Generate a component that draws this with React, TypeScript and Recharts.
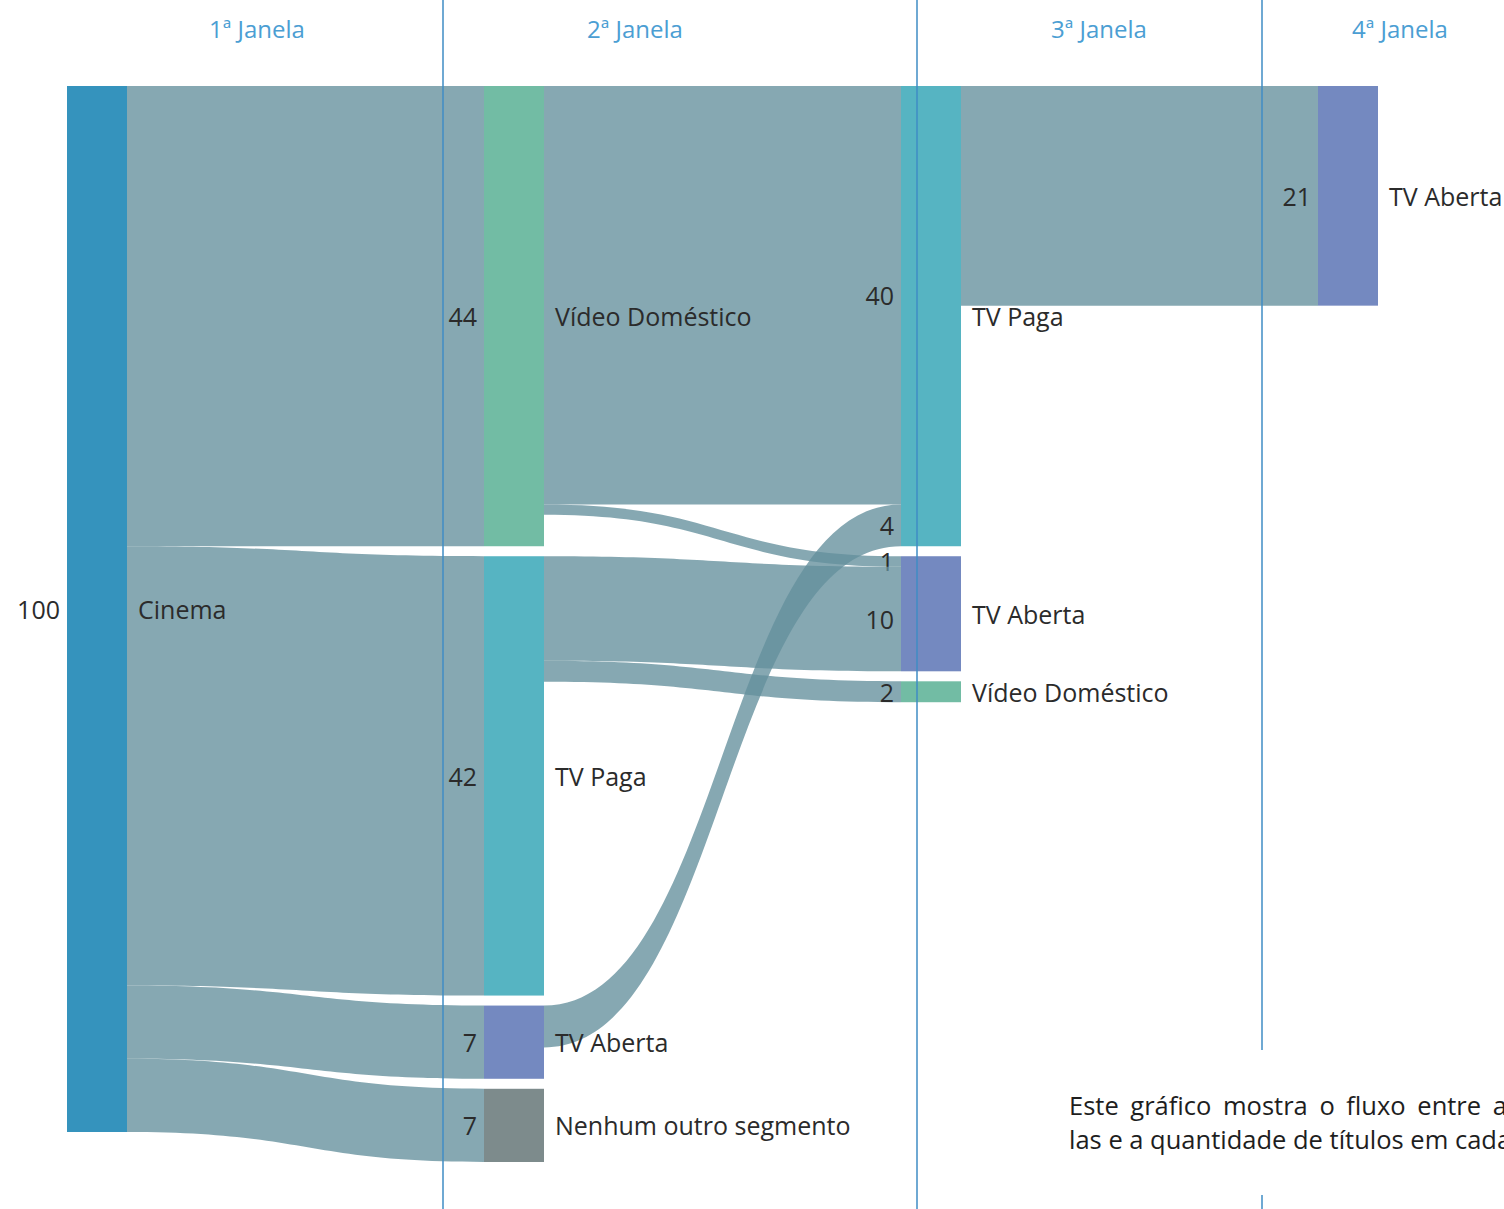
import { Sankey } from 'recharts';

/* -------------------------------------------------------------------------- */
/*  Data                                                                      */
/* -------------------------------------------------------------------------- */

const nodeNames = [
  'Cinema',
  'Vídeo Doméstico',
  'TV Paga',
  'TV Aberta',
  'Nenhum outro segmento',
  'TV Paga',
  'TV Aberta',
  'Vídeo Doméstico',
  'TV Aberta',
];

const linkSources = [0, 0, 0, 0, 1, 1, 2, 2, 3, 5];
const linkTargets = [1, 2, 3, 4, 5, 6, 6, 7, 5, 8];
const linkValues = [44, 42, 7, 7, 40, 1, 10, 2, 4, 21];

const windowLabels = ['1ª Janela', '2ª Janela', '3ª Janela', '4ª Janela'];

/* -------------------------------------------------------------------------- */
/*  Styles                                                                    */
/* -------------------------------------------------------------------------- */

const FONT = '"Open Sans", "Noto Sans", sans-serif';
const LABEL_COLOR = '#2b2b2b';
const HEADER_COLOR = '#4b9ed3';
const RULE_COLOR = '#3f8cc4';
const LINK_COLOR = '#64909c';

const NODE_COLORS: Record<string, string> = {
  Cinema: '#3593bd',
  'Vídeo Doméstico': '#72bca4',
  'TV Paga': '#56b4c2',
  'TV Aberta': '#7489c0',
  'Nenhum outro segmento': '#7d8b8c',
};

const sankeyData = {
  nodes: nodeNames.map((name) => ({ name })),
  links: linkValues.map((value, i) => ({
    source: linkSources[i],
    target: linkTargets[i],
    value,
  })),
};

/* -------------------------------------------------------------------------- */
/*  Custom node / link                                                        */
/* -------------------------------------------------------------------------- */

function SankeyNode(props: any) {
  const { x, y, width, height, index, payload } = props;
  const name: string = payload.name;
  const isRoot = !linkTargets.includes(index);
  const cy = y + height / 2;
  return (
    <g>
      <rect x={x} y={y} width={width} height={height} fill={NODE_COLORS[name] ?? '#888'} />
      {isRoot && (
        <text
          x={x - 7}
          y={cy}
          textAnchor="end"
          dominantBaseline="central"
          fontFamily={FONT}
          fontSize={25}
          fill={LABEL_COLOR}
        >
          {payload.value}
        </text>
      )}
      <text
        x={x + width + 11}
        y={cy}
        dominantBaseline="central"
        fontFamily={FONT}
        fontSize={25}
        fill={LABEL_COLOR}
      >
        {name}
      </text>
    </g>
  );
}

function SankeyLink(props: any) {
  const { sourceX, targetX, sourceY, targetY, sourceControlX, targetControlX, linkWidth, payload } =
    props;
  const h = linkWidth / 2;
  const d =
    `M${sourceX},${sourceY - h} ` +
    `C${sourceControlX},${sourceY - h} ${targetControlX},${targetY - h} ${targetX},${targetY - h} ` +
    `L${targetX},${targetY + h} ` +
    `C${targetControlX},${targetY + h} ${sourceControlX},${sourceY + h} ${sourceX},${sourceY + h} Z`;
  return (
    <g>
      <path d={d} fill={LINK_COLOR} fillOpacity={0.78} stroke="none" />
      <text
        x={targetX - 7}
        y={targetY}
        textAnchor="end"
        dominantBaseline="central"
        fontFamily={FONT}
        fontSize={25}
        fill={LABEL_COLOR}
      >
        {payload.value}
      </text>
    </g>
  );
}

/* -------------------------------------------------------------------------- */
/*  App                                                                       */
/* -------------------------------------------------------------------------- */

const headerCenters = [257, 635, 1099, 1400];
const ruleXs = [443, 917, 1262];

export default function App() {
  return (
    <div
      style={{
        position: 'absolute',
        left: 0,
        top: 0,
        width: 1504,
        height: 1209,
        overflow: 'hidden',
        background: '#fff',
        fontFamily: FONT,
      }}
    >
      <div style={{ position: 'absolute', left: 0, top: 0 }}>
        <Sankey
          width={1504}
          height={1209}
          data={sankeyData}
          nodeWidth={60}
          nodePadding={10}
          linkCurvature={0.5}
          iterations={0}
          sort={false}
          align="left"
          margin={{ top: 86, right: 126, bottom: 47, left: 67 }}
          node={<SankeyNode />}
          link={<SankeyLink />}
        />
      </div>

      {/* column rules + headers */}
      <svg
        width={1504}
        height={1209}
        style={{ position: 'absolute', left: 0, top: 0, pointerEvents: 'none' }}
      >
        {ruleXs.map((x) => (
          <line key={x} x1={x} x2={x} y1={0} y2={1209} stroke={RULE_COLOR} strokeWidth={1.5} />
        ))}
        {windowLabels.map((label, i) => (
          <text
            key={label}
            x={headerCenters[i]}
            y={28}
            textAnchor="middle"
            dominantBaseline="central"
            fontFamily={FONT}
            fontSize={24}
            fill={HEADER_COLOR}
          >
            {label}
          </text>
        ))}
      </svg>

      {/* note box */}
      <div
        style={{
          position: 'absolute',
          left: 1060,
          top: 1050,
          width: 600,
          height: 145,
          background: '#fff',
          paddingLeft: 9,
          paddingTop: 38,
          boxSizing: 'border-box',
          fontSize: 25.5,
          lineHeight: '34px',
          color: '#1e1e1e',
          whiteSpace: 'nowrap',
        }}
      >
        <div style={{ wordSpacing: 5 }}>Este gráfico mostra o fluxo entre as jane-</div>
        <div>las e a quantidade de títulos em cada uma delas.</div>
      </div>
    </div>
  );
}
